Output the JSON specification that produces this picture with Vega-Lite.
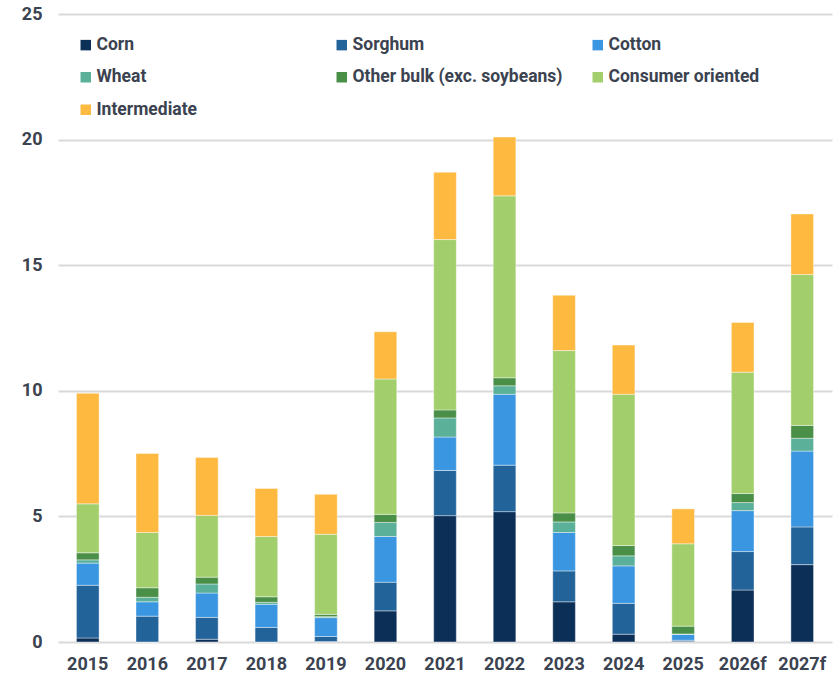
{
  "$schema": "https://vega.github.io/schema/vega-lite/v6.json",
  "width": 774,
  "height": 628,
  "autosize": {"type": "none"},
  "padding": {"left": 58, "top": 14, "right": 7, "bottom": 32},
  "background": "white",
  "data": {
    "values": [
      {"year": "2015", "Corn": 0.16, "Sorghum": 2.10, "Cotton": 0.88, "Wheat": 0.13, "Other": 0.28, "Consumer": 1.95, "Intermediate": 4.40},
      {"year": "2016", "Corn": 0.0, "Sorghum": 1.03, "Cotton": 0.57, "Wheat": 0.18, "Other": 0.38, "Consumer": 2.20, "Intermediate": 3.14},
      {"year": "2017", "Corn": 0.11, "Sorghum": 0.87, "Cotton": 0.97, "Wheat": 0.36, "Other": 0.27, "Consumer": 2.46, "Intermediate": 2.30},
      {"year": "2018", "Corn": 0.0, "Sorghum": 0.58, "Cotton": 0.92, "Wheat": 0.08, "Other": 0.22, "Consumer": 2.40, "Intermediate": 1.91},
      {"year": "2019", "Corn": 0.02, "Sorghum": 0.20, "Cotton": 0.75, "Wheat": 0.04, "Other": 0.09, "Consumer": 3.19, "Intermediate": 1.59},
      {"year": "2020", "Corn": 1.24, "Sorghum": 1.14, "Cotton": 1.82, "Wheat": 0.56, "Other": 0.32, "Consumer": 5.39, "Intermediate": 1.88},
      {"year": "2021", "Corn": 5.03, "Sorghum": 1.80, "Cotton": 1.33, "Wheat": 0.76, "Other": 0.32, "Consumer": 6.78, "Intermediate": 2.68},
      {"year": "2022", "Corn": 5.19, "Sorghum": 1.85, "Cotton": 2.82, "Wheat": 0.34, "Other": 0.32, "Consumer": 7.24, "Intermediate": 2.34},
      {"year": "2023", "Corn": 1.60, "Sorghum": 1.23, "Cotton": 1.53, "Wheat": 0.42, "Other": 0.36, "Consumer": 6.46, "Intermediate": 2.20},
      {"year": "2024", "Corn": 0.31, "Sorghum": 1.23, "Cotton": 1.49, "Wheat": 0.40, "Other": 0.41, "Consumer": 6.02, "Intermediate": 1.96},
      {"year": "2025", "Corn": 0.03, "Sorghum": 0.04, "Cotton": 0.23, "Wheat": 0.02, "Other": 0.31, "Consumer": 3.28, "Intermediate": 1.39},
      {"year": "2026f", "Corn": 2.07, "Sorghum": 1.53, "Cotton": 1.63, "Wheat": 0.32, "Other": 0.36, "Consumer": 4.83, "Intermediate": 1.98},
      {"year": "2027f", "Corn": 3.08, "Sorghum": 1.50, "Cotton": 3.02, "Wheat": 0.51, "Other": 0.51, "Consumer": 6.01, "Intermediate": 2.41}
    ]
  },
  "transform": [
    {"fold": ["Corn", "Sorghum", "Cotton", "Wheat", "Other", "Consumer", "Intermediate"], "as": ["category", "value"]},
    {"window": [{"op": "row_number", "as": "rank"}], "groupby": ["year"]}
  ],
  "mark": {"type": "bar", "stroke": "white", "strokeWidth": 0.4},
  "encoding": {
    "x": {
      "field": "year", "type": "ordinal",
      "scale": {"paddingInner": 0.62, "paddingOuter": 0.31},
      "axis": {"title": null, "labelAngle": 0, "domain": false, "ticks": false, "labelPadding": 13, "labelFont": "Roboto", "labelFontWeight": "bold", "labelFontSize": 18, "labelColor": "#3b4250"}
    },
    "y": {
      "field": "value", "type": "quantitative", "stack": "zero",
      "scale": {"domain": [0, 25], "nice": false},
      "axis": {"title": null, "values": [0, 5, 10, 15, 20, 25], "domain": false, "ticks": false, "labelPadding": 16, "labelFont": "Roboto", "labelFontWeight": "bold", "labelFontSize": 18, "labelColor": "#3b4250", "gridColor": "#d9d9d9", "gridWidth": 2}
    },
    "order": {"field": "rank", "type": "quantitative", "sort": "ascending"},
    "color": {
      "field": "category", "type": "nominal",
      "scale": {
        "domain": ["Corn", "Sorghum", "Cotton", "Wheat", "Other", "Consumer", "Intermediate"],
        "range": ["#0c2f57", "#22639a", "#3a96e0", "#5bb09a", "#4a8f48", "#a2cf6c", "#fdb940"]
      },
      "legend": {
        "title": null, "orient": "none", "direction": "horizontal", "legendX": 19, "legendY": 22, "columns": 3, "gridAlign": "all",
        "columnPadding": 26, "rowPadding": 13.5, "symbolType": "square", "symbolSize": 110, "symbolStrokeWidth": 0, "labelOffset": 2,
        "labelFont": "Roboto", "labelFontWeight": "bold", "labelFontSize": 17.5, "labelColor": "#3b4250", "labelLimit": 400,
        "labelExpr": "datum.label == 'Other' ? 'Other bulk (exc. soybeans)' : datum.label == 'Consumer' ? 'Consumer oriented' : datum.label"
      }
    }
  },
  "config": {"view": {"stroke": null}}
}
